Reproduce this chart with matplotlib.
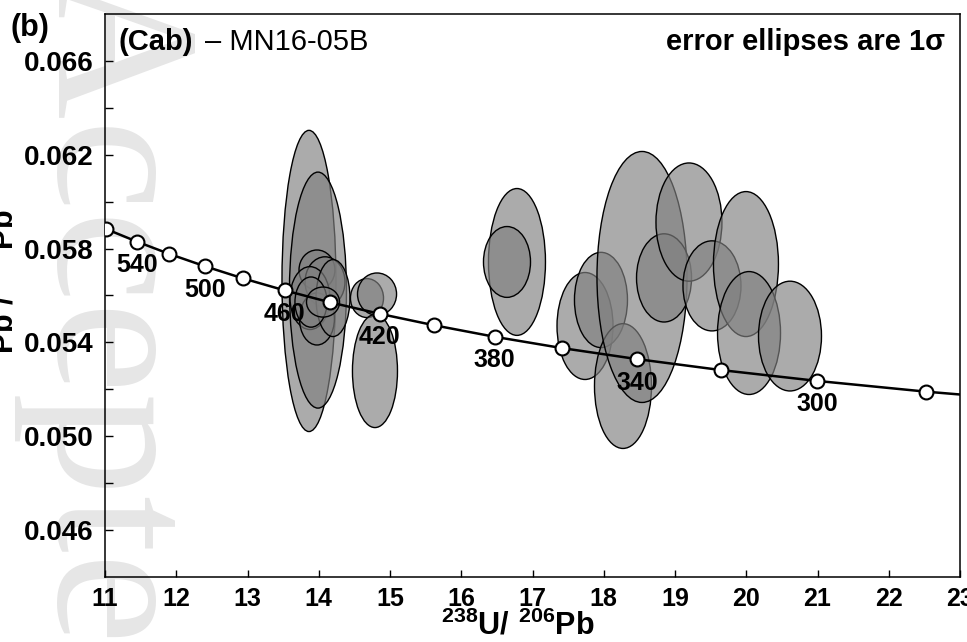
import matplotlib.pyplot as plt
from matplotlib.patches import Ellipse
from matplotlib.ticker import MultipleLocator, FixedLocator

plt.rcParams["font.family"] = ["Liberation Sans", "DejaVu Sans"]
plt.rcParams["mathtext.fontset"] = "custom"
plt.rcParams["mathtext.rm"] = "Liberation Sans:bold"
plt.rcParams["mathtext.bf"] = "Liberation Sans:bold"

# concordia ticks (Ma) and their 238U/206Pb, 207Pb/206Pb positions
conc_age = [560, 540, 520, 500, 480, 460, 440, 420, 400, 380, 360, 340, 320, 300, 280, 260]
conc_x = [11.019, 11.445, 11.904, 12.399, 12.936, 13.520, 14.157, 14.854, 15.621,
          16.469, 17.411, 18.465, 19.649, 20.992, 22.527, 24.297]
conc_y = [0.05883, 0.05830, 0.05777, 0.05725, 0.05673, 0.05622, 0.05571, 0.05522,
          0.05473, 0.05424, 0.05376, 0.05329, 0.05282, 0.05236, 0.05190, 0.05145]
label_ages = [540, 500, 460, 420, 380, 340, 300]

# analyses: centre and 1 sigma errors
ell_x = [13.863, 13.989, 13.975, 14.088, 13.877, 13.975, 14.200, 13.891, 14.060,
         14.677, 14.818, 14.789, 16.782, 16.642, 17.737, 17.961, 18.270, 18.537,
         18.846, 19.196, 19.519, 19.996, 20.039, 20.614]
ell_y = [0.05662, 0.05623, 0.05709, 0.05658, 0.05589, 0.05500, 0.05589, 0.05572, 0.05572,
         0.05589, 0.05606, 0.05278, 0.05743, 0.05743, 0.05470, 0.05581, 0.05214, 0.05679,
         0.05675, 0.05913, 0.05641, 0.05734, 0.05440, 0.05427]
ell_sx = [0.379, 0.400, 0.252, 0.280, 0.280, 0.245, 0.238, 0.225, 0.232,
          0.232, 0.274, 0.316, 0.400, 0.330, 0.393, 0.372, 0.400, 0.632,
          0.386, 0.463, 0.407, 0.456, 0.442, 0.442]
ell_sy = [0.00642, 0.00503, 0.00085, 0.00107, 0.00134, 0.00111, 0.00164, 0.00107, 0.00064,
          0.00083, 0.00090, 0.00241, 0.00313, 0.00151, 0.00228, 0.00203, 0.00266, 0.00535,
          0.00188, 0.00252, 0.00192, 0.00309, 0.00262, 0.00234]

y_major = [0.046, 0.050, 0.054, 0.058, 0.062, 0.066]
y_minor = [0.048, 0.052, 0.056, 0.060, 0.064]

W, H = 967, 642


def px(x, y):
    return x / W, 1 - y / H


fig = plt.figure(figsize=(W / 100, H / 100), dpi=100)
ax = fig.add_axes([105 / W, 1 - 577 / H, 855 / W, 563 / H])
ax.set_facecolor("none")

# faint journal watermark behind everything
fig.text(*px(14, -30), "Accepted Article", rotation=-90,
         ha="left", va="top", fontsize=148, color="#e6e6e6",
         family="Liberation Serif", zorder=-5)

for x, y, sx, sy in zip(ell_x, ell_y, ell_sx, ell_sy):
    ax.add_patch(Ellipse((x, y), 2 * sx, 2 * sy, facecolor=(0.5, 0.5, 0.5, 0.66),
                         edgecolor="black", lw=1.0, zorder=2))

ax.plot(conc_x, conc_y, color="black", lw=1.8, zorder=3)
ax.plot(conc_x, conc_y, "o", ms=10, mfc="white", mec="black", mew=1.5, zorder=4)
for age in label_ages:
    i = conc_age.index(age)
    ax.annotate(str(age), (conc_x[i], conc_y[i]), xytext=(0, -17),
                textcoords="offset points", ha="center", va="center",
                fontsize=18, fontweight="bold", zorder=5)

ax.set_xlim(11, 23)
ax.set_ylim(0.044, 0.068)
ax.xaxis.set_major_locator(MultipleLocator(1))
ax.yaxis.set_major_locator(FixedLocator(y_major))
ax.yaxis.set_minor_locator(FixedLocator(y_minor))
ax.set_yticklabels([f"{v:.3f}" for v in y_major])
ax.tick_params(axis="y", which="both", direction="in", length=6, width=1, pad=8,
               labelsize=20)
ax.tick_params(axis="x", direction="in", length=5, width=1, pad=7, labelsize=18)
for lab in ax.get_xticklabels() + ax.get_yticklabels():
    lab.set_fontweight("bold")
for sp in ax.spines.values():
    sp.set_linewidth(1.1)

fig.text(*px(10, 13), "(b)", va="top", fontsize=22, fontweight="bold")
fig.text(*px(118, 50), "(Cab)", va="baseline", fontsize=21, fontweight="bold")
fig.text(*px(205, 50), "\u2013 MN16-05B", va="baseline", fontsize=21)
fig.text(*px(945, 50), "error ellipses are 1\u03c3", ha="right", va="baseline",
         fontsize=21, fontweight="bold")
fig.text(*px(518, 626), r"$\mathbf{^{238}U/\ ^{206}Pb}$", ha="center", va="center",
         fontsize=22)
fig.text(*px(21, 300), r"$\mathbf{^{207}Pb\ /\ ^{206}Pb}$", ha="right", va="center",
         rotation=90, fontsize=22)

fig.savefig("out.png", dpi=100)
